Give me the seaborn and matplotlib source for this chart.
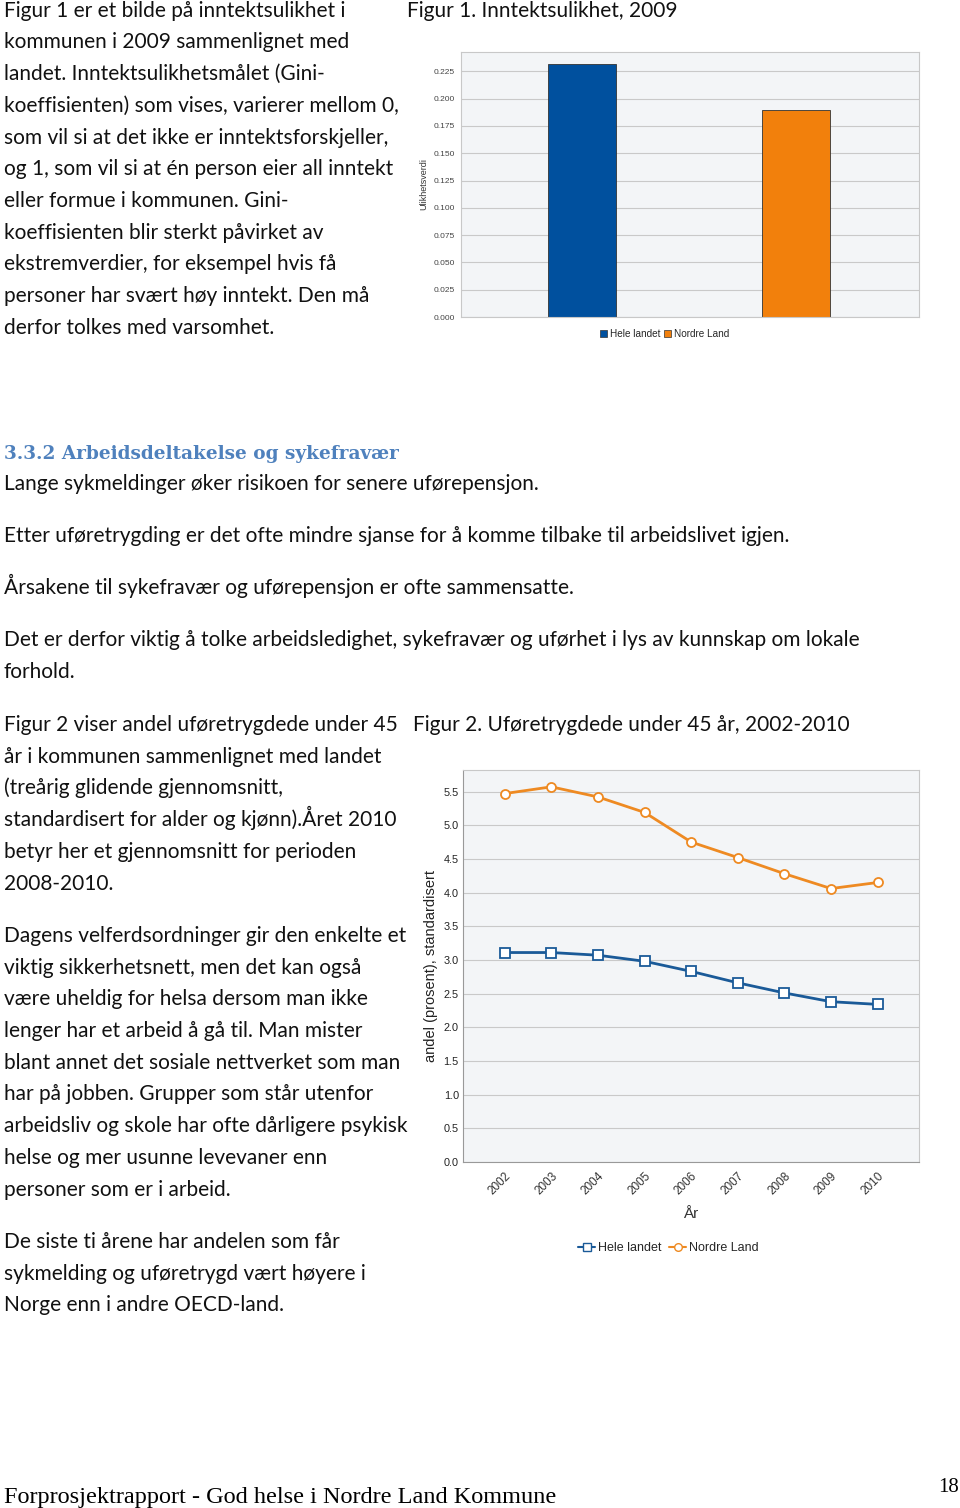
import numpy as np
import pandas as pd
import matplotlib
matplotlib.use('Agg')
import matplotlib.pyplot as plt
import seaborn as sns
from matplotlib.patches import Patch
from matplotlib.lines import Line2D

# Data
regioner = ['Hele landet', 'Nordre Land']
gini_2009 = [0.232, 0.190]

aar = [2002, 2003, 2004, 2005, 2006, 2007, 2008, 2009, 2010]
hele_landet = [3.11, 3.11, 3.07, 2.98, 2.83, 2.66, 2.51, 2.38, 2.34]
nordre_land = [5.47, 5.57, 5.42, 5.19, 4.75, 4.52, 4.28, 4.06, 4.15]

gini_ticks = [0.000, 0.025, 0.050, 0.075, 0.100, 0.125, 0.150, 0.175, 0.200, 0.225]
andel_ticks = [0.0, 0.5, 1.0, 1.5, 2.0, 2.5, 3.0, 3.5, 4.0, 4.5, 5.0, 5.5]

tekst_fig1 = [
    "Figur 1 er et bilde på inntektsulikhet i",
    "kommunen i 2009 sammenlignet med",
    "landet. Inntektsulikhetsmålet (Gini-",
    "koeffisienten) som vises, varierer mellom 0,",
    "som vil si at det ikke er inntektsforskjeller,",
    "og 1, som vil si at én person eier all inntekt",
    "eller formue i kommunen. Gini-",
    "koeffisienten blir sterkt påvirket av",
    "ekstremverdier, for eksempel hvis få",
    "personer har svært høy inntekt. Den må",
    "derfor tolkes med varsomhet.",
]
tekst_midt = [
    (490, "Lange sykmeldinger øker risikoen for senere uførepensjon."),
    (542, "Etter uføretrygding er det ofte mindre sjanse for å komme tilbake til arbeidslivet igjen."),
    (594, "Årsakene til sykefravær og uførepensjon er ofte sammensatte."),
    (646, "Det er derfor viktig å tolke arbeidsledighet, sykefravær og uførhet i lys av kunnskap om lokale"),
    (678, "forhold."),
]
tekst_fig2a = [
    "Figur 2 viser andel uføretrygdede under 45",
    "år i kommunen sammenlignet med landet",
    "(treårig glidende gjennomsnitt,",
    "standardisert for alder og kjønn).Året 2010",
    "betyr her et gjennomsnitt for perioden",
    "2008-2010.",
]
tekst_fig2b = [
    "Dagens velferdsordninger gir den enkelte et",
    "viktig sikkerhetsnett, men det kan også",
    "være uheldig for helsa dersom man ikke",
    "lenger har et arbeid å gå til. Man mister",
    "blant annet det sosiale nettverket som man",
    "har på jobben. Grupper som står utenfor",
    "arbeidsliv og skole har ofte dårligere psykisk",
    "helse og mer usunne levevaner enn",
    "personer som er i arbeid.",
]
tekst_fig2c = [
    "De siste ti årene har andelen som får",
    "sykmelding og uføretrygd vært høyere i",
    "Norge enn i andre OECD-land.",
]

sns.set_theme(style='white')
plt.rcParams['font.family'] = ['Lato', 'DejaVu Sans']

W, H = 960, 1508
fig = plt.figure(figsize=(W / 100, H / 100), dpi=100)
fig.patch.set_facecolor('white')


def fy(y):
    return 1 - y / H


def fx(x):
    return x / W


body = dict(fontsize=15.0, color='#111111', va='baseline', ha='left')
linje = 31.7

for i, t in enumerate(tekst_fig1):
    fig.text(fx(4), fy(16.7 + i * linje), t, **body)
fig.text(fx(407), fy(16.7), "Figur 1. Inntektsulikhet, 2009", **body)

fig.text(fx(4), fy(459), "3.3.2 Arbeidsdeltakelse og sykefravær", fontsize=13.3,
         fontweight='bold', family='DejaVu Serif', color='#4f81bd', va='baseline')
for y, t in tekst_midt:
    fig.text(fx(4), fy(y), t, **body)

for i, t in enumerate(tekst_fig2a):
    fig.text(fx(4), fy(731 + i * linje), t, **body)
fig.text(fx(413), fy(731), "Figur 2. Uføretrygdede under 45 år, 2002-2010", **body)
for i, t in enumerate(tekst_fig2b):
    fig.text(fx(4), fy(942 + i * linje), t, **body)
for i, t in enumerate(tekst_fig2c):
    fig.text(fx(4), fy(1248 + i * linje), t, **body)

fig.text(fx(4), fy(1503), "Forprosjektrapport - God helse i Nordre Land Kommune",
         family='Liberation Serif', fontsize=17.5, color='black', va='baseline')
fig.text(fx(959), fy(1492), "18", family='Liberation Serif', fontsize=15,
         color='black', va='baseline', ha='right')

chart_font = ['Liberation Sans Narrow', 'Liberation Sans', 'DejaVu Sans']
bg = '#f3f5f7'
grid = '#c9c9c9'
blaa = '#00509e'
oransje = '#f2800c'

# Figur 1: stolpediagram
ax1 = fig.add_axes([fx(461), fy(317), fx(919 - 461), (317 - 52) / H])
df1 = pd.DataFrame({'region': regioner, 'gini': gini_2009})
sns.barplot(data=df1, x='region', y='gini', hue='region', palette=[blaa, oransje],
            saturation=1, width=0.318, edgecolor='#333333', linewidth=0.6,
            legend=False, ax=ax1)
ax1.set_facecolor(bg)
ax1.set_xlim(-0.565, 1.575)
ax1.set_ylim(0, 0.2428)
ax1.set_yticks(gini_ticks)
ax1.set_yticklabels([f"{v:.3f}" for v in gini_ticks], family=chart_font,
                    fontsize=6, color='#444444')
ax1.set_xticks([])
ax1.set_xlabel('')
ax1.set_ylabel('Ulikhetsverdi', family=chart_font, fontsize=6.5, color='#333333', labelpad=4)
ax1.yaxis.grid(True, color=grid, linewidth=0.8)
ax1.set_axisbelow(True)
ax1.tick_params(axis='y', length=3, width=0.5, color='#999999', pad=1.5)
for s in ax1.spines.values():
    s.set_color('#c8c8c8')
    s.set_linewidth(0.8)
handles1 = [Patch(facecolor=blaa, edgecolor='#333333', linewidth=0.5, label='Hele landet'),
            Patch(facecolor=oransje, edgecolor='#333333', linewidth=0.5, label='Nordre Land')]
ax1.legend(handles=handles1, loc='center', bbox_to_anchor=(0.445, -0.065), ncol=2,
           frameon=False, prop={'family': chart_font, 'size': 7.2}, handlelength=0.7,
           handleheight=0.7, handletextpad=0.3, columnspacing=0.4)

# Figur 2: linjediagram
ax2 = fig.add_axes([fx(463), fy(1162), fx(919 - 463), (1162 - 770) / H])
df2 = pd.DataFrame({'aar': aar + aar,
                    'andel': hele_landet + nordre_land,
                    'region': ['Hele landet'] * len(aar) + ['Nordre Land'] * len(aar)})
sns.lineplot(data=df2[df2.region == 'Hele landet'], x='aar', y='andel', color='#1a5a98',
             linewidth=2.0, marker='s', markersize=6.5, markerfacecolor='white',
             markeredgecolor='#1a5a98', markeredgewidth=1.3, ax=ax2, legend=False)
sns.lineplot(data=df2[df2.region == 'Nordre Land'], x='aar', y='andel', color='#ee8a22',
             linewidth=2.0, marker='o', markersize=6.5, markerfacecolor='white',
             markeredgecolor='#ee8a22', markeredgewidth=1.3, ax=ax2, legend=False)
ax2.set_facecolor(bg)
ax2.set_xlim(2001.105, 2010.886)
ax2.set_ylim(0, 5.82)
ax2.set_yticks(andel_ticks)
ax2.set_yticklabels([f"{v:.1f}" for v in andel_ticks], family=chart_font,
                    fontsize=7.8, color='#222222')
ax2.set_xticks(aar)
ax2.set_xticklabels([str(a) for a in aar], rotation=45, ha='right', rotation_mode='anchor',
                    family=chart_font, fontsize=8.5, color='#333333')
ax2.set_xlabel('År', family=chart_font, fontsize=11, color='#333333', labelpad=7)
ax2.set_ylabel('andel (prosent), standardisert', family=chart_font, fontsize=10.5,
               color='#222222', labelpad=4)
ax2.yaxis.grid(True, color=grid, linewidth=0.8)
ax2.set_axisbelow(True)
ax2.tick_params(axis='both', length=0, pad=3)
ax2.tick_params(axis='x', pad=6)
for s in ax2.spines.values():
    s.set_color('#c8c8c8')
    s.set_linewidth(0.8)
ax2.spines['left'].set_color('#999999')
ax2.spines['bottom'].set_color('#999999')
handles2 = [Line2D([], [], color='#1a5a98', marker='s', markerfacecolor='white',
                   markeredgecolor='#1a5a98', markersize=5.5, linewidth=1.5, label='Hele landet'),
            Line2D([], [], color='#ee8a22', marker='o', markerfacecolor='white',
                   markeredgecolor='#ee8a22', markersize=5.5, linewidth=1.5, label='Nordre Land')]
ax2.legend(handles=handles2, loc='center', bbox_to_anchor=(0.45, -0.22), ncol=2,
           frameon=False, prop={'family': chart_font, 'size': 9}, handlelength=1.4,
           handletextpad=0.2, columnspacing=0.6)

fig.savefig('out.png', dpi=100, facecolor='white')
